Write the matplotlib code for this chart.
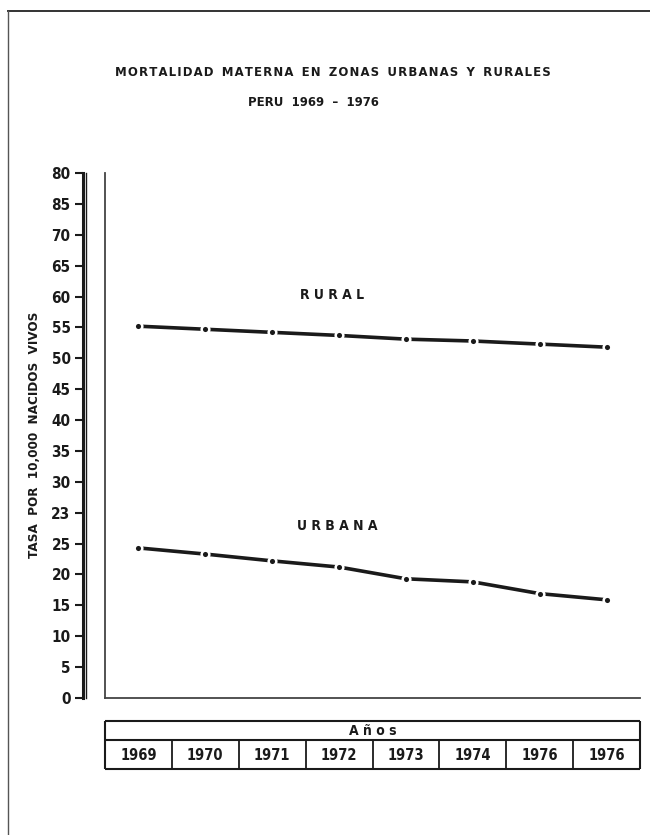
import numpy as np
import matplotlib.pyplot as plt
from matplotlib.lines import Line2D

years = [1969, 1970, 1971, 1972, 1973, 1974, 1975, 1976]
rural = [60.2, 59.7, 59.2, 58.7, 58.1, 57.8, 57.3, 56.8]
urbana = [24.3, 23.3, 22.2, 21.2, 19.3, 18.8, 16.9, 15.9]

# tick labels exactly as printed on the original (misprints included)
ytick_pos = list(range(0, 90, 5))
ytick_labels = ['0', '5', '10', '15', '20', '25', '23', '30', '35',
                '40', '45', '50', '55', '60', '65', '70', '85', '80']
year_labels = ['1969', '1970', '1971', '1972', '1973', '1974', '1976', '1976']

W, H = 650, 835
def fx(px):
    return px / W
def fy(py):
    return 1 - py / H

def spaced(txt, gap='\u200a'):
    # letter spacing like the typewriter-style title
    return '  '.join(gap.join(w) for w in txt.split(' '))

plt.rcParams['font.family'] = ['DejaVu Sans']
plt.rcParams['font.stretch'] = 'condensed'
ink = '#1a1a1a'

fig = plt.figure(figsize=(6.5, 8.35), dpi=100)

# page border (scan edge)
fig.add_artist(Line2D([fx(8), fx(650)], [fy(11), fy(11)], color='#333', lw=1.4))
fig.add_artist(Line2D([fx(8), fx(8)], [fy(11), fy(835)], color='#555', lw=1.0))

# titles
fig.text(fx(333), fy(73), spaced('MORTALIDAD MATERNA EN ZONAS URBANAS Y RURALES'),
         ha='center', va='center', fontsize=9.4, fontweight='bold', color=ink)
fig.text(fx(313), fy(103), 'PERU  1969  –  1976',
         ha='center', va='center', fontsize=9.4, fontweight='bold', color=ink)

# main plot
ax = fig.add_axes([fx(105), fy(698), fx(640) - fx(105), fy(173) - fy(698)])
ax.set_xlim(1968.5, 1976.5)
ax.set_ylim(0, 85)
for s in ['top', 'right']:
    ax.spines[s].set_visible(False)
for s in ['left', 'bottom']:
    ax.spines[s].set_color('#444')
    ax.spines[s].set_linewidth(1.3)
ax.set_xticks([])
ax.set_yticks([])

for serie in [rural, urbana]:
    ax.plot(years, serie, color=ink, lw=2.6, marker='o', ms=5.5,
            mfc=ink, mec='white', mew=1.8, clip_on=False)

ax.text(1971.9, 65.2, 'R U R A L', ha='center', va='center', fontsize=10,
        fontweight='bold', color=ink)
ax.text(1971.97, 27.8, 'U R B A N A', ha='center', va='center', fontsize=10,
        fontweight='bold', color=ink)

# separate scale with double line
sec = ax.secondary_yaxis((83 - 105) / 535)
sec.set_yticks(ytick_pos)
sec.set_yticklabels(ytick_labels, fontsize=11, fontweight='bold', color=ink)
sec.spines['left'].set_linewidth(2.2)
sec.spines['left'].set_color(ink)
sec.tick_params(axis='y', direction='out', length=6, width=1.5, pad=3, colors=ink)
fig.add_artist(Line2D([fx(86.5), fx(86.5)], [fy(173), fy(698)], color=ink, lw=1.0))

fig.text(fx(35), fy(435), 'TASA  POR  10,000  NACIDOS  VIVOS', rotation=90,
         ha='center', va='center', fontsize=9.6, fontweight='bold', color=ink)

# years table
tb = fig.add_axes([fx(105), fy(769), fx(640) - fx(105), fy(721) - fy(769)])
tb.set_xlim(1968.5, 1976.5)
tb.set_ylim(0, 2)
tb.axis('off')
tb.hlines([0, 1.2, 2], 1968.5, 1976.5, color=ink, lw=1.5, clip_on=False)
tb.vlines([1968.5, 1976.5], 0, 2, color=ink, lw=1.5, clip_on=False)
tb.vlines(np.arange(1969.5, 1976.5, 1), 0, 1.2, color=ink, lw=1.3)
tb.text(1972.5, 1.6, 'A ñ o s', ha='center', va='center', fontsize=10,
        fontweight='bold', color=ink)
for yr, lab in zip(years, year_labels):
    tb.text(yr, 0.58, lab, ha='center', va='center', fontsize=10.5,
            fontweight='bold', color=ink)

fig.savefig('out.png', dpi=100)
